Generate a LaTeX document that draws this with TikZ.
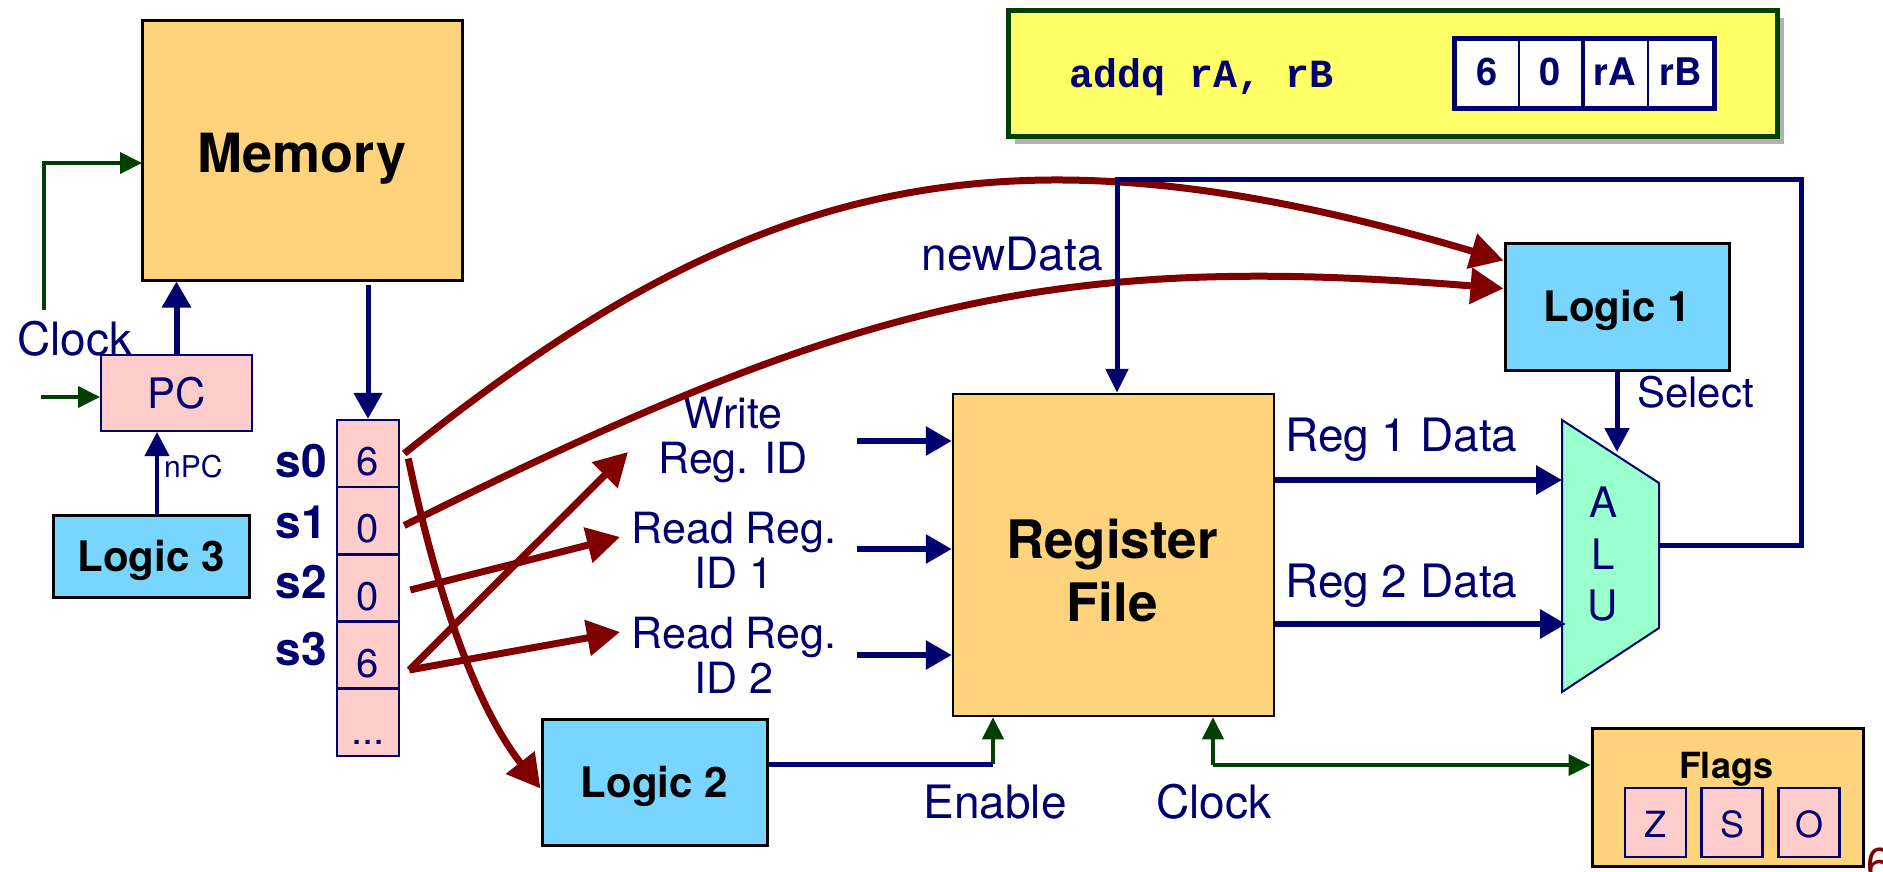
\documentclass[tikz,border=0pt]{standalone}
\usepackage{fontspec}
\setmainfont{TeX Gyre Heros}
\setmonofont{Liberation Mono}
\usetikzlibrary{arrows.meta,shadows}
\definecolor{navy}{RGB}{0,0,110}
\definecolor{dred}{RGB}{128,0,0}
\definecolor{dgreen}{RGB}{0,64,0}
\definecolor{orangebox}{RGB}{254,211,123}
\definecolor{skyb}{RGB}{119,213,254}
\definecolor{pinkc}{RGB}{255,204,204}
\definecolor{alug}{RGB}{153,255,204}
\definecolor{yel}{RGB}{255,255,102}
\newcommand{\fsz}[2]{\fontsize{#1pt}{#2pt}\selectfont}
\begin{document}
\begin{tikzpicture}[x=1pt,y=-1pt,
  blk/.style={draw=black, line width=3pt, inner sep=0pt, text depth=0pt},
  orbox/.style={blk, fill=orangebox},
  logicbox/.style={blk, fill=skyb, font={\fsz{42}{46}\bfseries}, text height=30pt},
  cellbox/.style={draw=navy, line width=2.5pt, fill=pinkc, inner sep=0pt, minimum width=62pt, minimum height=67pt, text=navy, font={\fsz{40}{44}}, text height=44pt, text depth=0pt},
  flagcell/.style={draw=navy, line width=2.5pt, fill=pinkc, inner sep=0pt, minimum width=61pt, minimum height=69pt, text=navy, font={\fsz{36}{40}}, text height=29pt, text depth=0pt},
  enccell/.style={draw=navy, line width=2pt, fill=white, inner sep=0pt, minimum height=68pt, text=navy, font={\fsz{38}{42}\bfseries}, text height=25pt, text depth=0pt},
  lbl/.style={text=navy, font={\fsz{46}{50}}, inner sep=0pt},
  twolbl/.style={text=navy, font={\fsz{43}{45}}, inner sep=0pt, align=center, anchor=north},
  slbl/.style={text=navy, font={\fsz{46}{50}\bfseries}, inner sep=0pt, anchor=base east},
  navyarrow/.style={draw=navy, line width=6pt, -{Triangle[length=26pt,width=28pt]}},
  greenarrow/.style={draw=dgreen, line width=4pt, -{Triangle[length=22pt,width=21pt]}},
  redarrow/.style={draw=dred, line width=7pt, -{Triangle[length=33pt,width=35pt]}},
]
\fill[white] (0,0) rectangle (1883,871);
\useasboundingbox (0,0) rectangle (1883,871);

% instruction box
\node[draw=dgreen, line width=5pt, fill=yel, minimum width=769pt, minimum height=126pt, inner sep=0pt,
  drop shadow={shadow xshift=7pt, shadow yshift=-8pt, fill=gray!60, opacity=1}] (instr) at (1392.5,73) {};
\node[anchor=base west, inner sep=0pt, text=navy, font={\fsz{40}{44}\ttfamily\bfseries}] (asm) at (1069,87) {addq rA, rB};
\node[enccell, minimum width=64pt] (e0) at (1487,73) {6};
\node[enccell, minimum width=63pt] (e1) at (1550.5,73) {0};
\node[enccell, minimum width=66pt] (e2) at (1615,73) {rA};
\node[enccell, minimum width=65pt] (e3) at (1680.5,73) {rB};
\draw[navy, line width=5pt] (e0.north west) rectangle (e3.south east);
\draw[navy, line width=4pt] (e1.north east) -- (e1.south east);

% boxes
\node[orbox, minimum width=320pt, minimum height=260pt, font={\fsz{54}{58}\bfseries}, text height=44pt] (mem) at (302,150) {Memory};
\node[draw=navy, line width=2pt, fill=pinkc, inner sep=0pt, minimum width=151pt, minimum height=76pt, text=navy, font={\fsz{42}{46}}, text height=30pt, text depth=0pt] (pc) at (176.5,393) {PC};
\node[logicbox, minimum width=196pt, minimum height=82pt] (l3) at (151,556) {Logic 3};
\node[logicbox, minimum width=224pt, minimum height=127pt] (l1) at (1617,306.5) {Logic 1};
\node[logicbox, minimum width=225pt, minimum height=126pt] (l2) at (654.5,782) {Logic 2};
\node[orbox, line width=2.5pt, minimum width=321pt, minimum height=322pt] (rf) at (1113.5,555) {};
\node[inner sep=0pt, anchor=north, align=center, font={\fsz{53}{63}\bfseries}] (rftxt) at (1112,519) {Register\\File};
\node[orbox, minimum width=271pt, minimum height=138pt] (flags) at (1727.5,797) {};
\node[inner sep=0pt, anchor=base, font={\fsz{36}{40}\bfseries}] (flagstxt) at (1726,778) {Flags};
\node[flagcell] (fz) at (1655.5,822.5) {Z};
\node[flagcell] (fs) at (1732,822.5) {S};
\node[flagcell] (fo) at (1809,822.5) {O};

% instruction byte cells
\node[cellbox] (c0) at (368,453.5) {6};
\node[cellbox] (c1) at (368,520.5) {0};
\node[cellbox] (c2) at (368,588) {0};
\node[cellbox] (c3) at (368,655) {6};
\node[cellbox] (c4) at (368,722.5) {...};
\node[slbl] (s0) at (327,477) {s0};
\node[slbl] (s1) at (327,538) {s1};
\node[slbl] (s2) at (327,598) {s2};
\node[slbl] (s3) at (327,665) {s3};

% ALU
\coordinate (aluTL) at (1562,420);
\coordinate (aluTR) at (1659,483);
\coordinate (aluBR) at (1659,628);
\coordinate (aluBL) at (1562,692);
\draw[fill=alug, draw=navy, line width=2pt] (aluTL) -- (aluTR) -- (aluBR) -- (aluBL) -- cycle;
\node[inner sep=0pt, anchor=north, align=center, text=navy, font={\fsz{42}{51.5}}] (alutxt) at (1603,487) {A\\L\\U};

% labels
\node[lbl, anchor=base west] (clk1lbl) at (17,355) {Clock};
\node[lbl, anchor=base] (enlbl) at (995,818) {Enable};
\node[lbl, anchor=base] (clk2lbl) at (1214,818) {Clock};
\node[lbl, anchor=base east] (ndlbl) at (1103,270) {newData};
\node[lbl, anchor=base west] (r1lbl) at (1285,451) {Reg 1 Data};
\node[lbl, anchor=base west] (r2lbl) at (1285,597) {Reg 2 Data};
\node[lbl, anchor=base west, font={\fsz{42}{46}}] (sellbl) at (1637,407) {Select};
\node[lbl, anchor=base west, font={\fsz{30}{32}}] (npclbl) at (164,477) {nPC};
\node[twolbl] (wlbl) at (733,397) {Write\\Reg. ID};
\node[twolbl] (rd1lbl) at (734,512) {Read Reg.\\ID 1};
\node[twolbl] (rd2lbl) at (734,617) {Read Reg.\\ID 2};
\node[anchor=base west, inner sep=0pt, text=dred, font={\fsz{46}{50}}] (pgnum) at (1866,880) {6};

% coordinates
\coordinate (s0o) at ([xshift=4pt]c0.east);
\coordinate (s0d) at ([xshift=8pt,yshift=-5pt]c0.east);
\coordinate (s1o) at ([xshift=4pt,yshift=-5pt]c1.east);
\coordinate (s2o) at ([xshift=10pt,yshift=-2pt]c2.east);
\coordinate (s3o) at ([xshift=9pt,yshift=-15pt]c3.east);
\coordinate (l1a) at ([yshift=-19pt]l1.north west);
\coordinate (l1b) at ([yshift=-47pt]l1.north west);
\coordinate (l2a) at ([yshift=-71pt]l2.north west);
\coordinate (wtip) at (628,452);
\coordinate (r1tip) at (620,537);
\coordinate (r2tip) at (620,632);
\coordinate (in1) at (857,441);
\coordinate (in2) at (857,549);
\coordinate (in3) at (857,655);
\coordinate (yr1) at (0,480);
\coordinate (yr2) at (0,624);
\coordinate (aluout) at (1660,545);
\coordinate (fbR) at (1801,179);
\coordinate (selin) at (1616,452);
\coordinate (enc) at (993,764);
\coordinate (clk2) at (1213,765);
\coordinate (clk1) at (44,310);
\coordinate (memclk) at (142,163);
\coordinate (pcin) at (41,397);

% red arrows
\draw[redarrow] (s0o) .. controls (752,175) and (1004,112) .. (l1a);
\draw[redarrow] (s1o) .. controls (853,301) and (1054,252) .. (l1b);
\draw[redarrow] (s0d) .. controls (440,608) and (479,710) .. (l2a);
\draw[redarrow] (s3o) -- (wtip);
\draw[redarrow] (s2o) -- (r1tip);
\draw[redarrow] (s3o) -- (r2tip);

% navy arrows
\draw[navyarrow] (pc.north) -- (pc.north |- mem.south);
\draw[navyarrow, line width=5pt] ([yshift=-3pt]mem.south -| c0.north) -- (c0.north);
\draw[navyarrow, line width=4pt, -{Triangle[length=24pt,width=24pt]}] ([xshift=6pt]l3.north) -- ([xshift=-19.5pt]pc.south);
\draw[navyarrow] (in1) -- (rf.west |- in1);
\draw[navyarrow] (in2) -- (rf.west |- in2);
\draw[navyarrow] (in3) -- (rf.west |- in3);
\draw[navyarrow] (rf.east |- yr1) -- (aluTL |- yr1);
\draw[navyarrow] (rf.east |- yr2) -- ([xshift=4pt]aluTL |- yr2);
\draw[navyarrow, line width=5pt, -{Triangle[length=24pt,width=22pt]}] (aluout) -| (fbR) -| ([xshift=3.5pt]rf.north);
\draw[navyarrow, line width=5pt, -{Triangle[length=24pt,width=24pt]}] (l1.south) -- (l1.south |- selin);
\draw[navy, line width=5pt] (l2.east |- enc) -- (enc);

% green arrows
\draw[greenarrow] (enc) -- (rf.south -| enc);
\draw[greenarrow] (clk2) -- (rf.south -| clk2);
\draw[greenarrow] (clk2) -- (flags.west |- clk2);
\draw[greenarrow] (clk1) |- (memclk);
\draw[greenarrow] (pcin) -- (pc.west |- pcin);
\end{tikzpicture}
\end{document}
